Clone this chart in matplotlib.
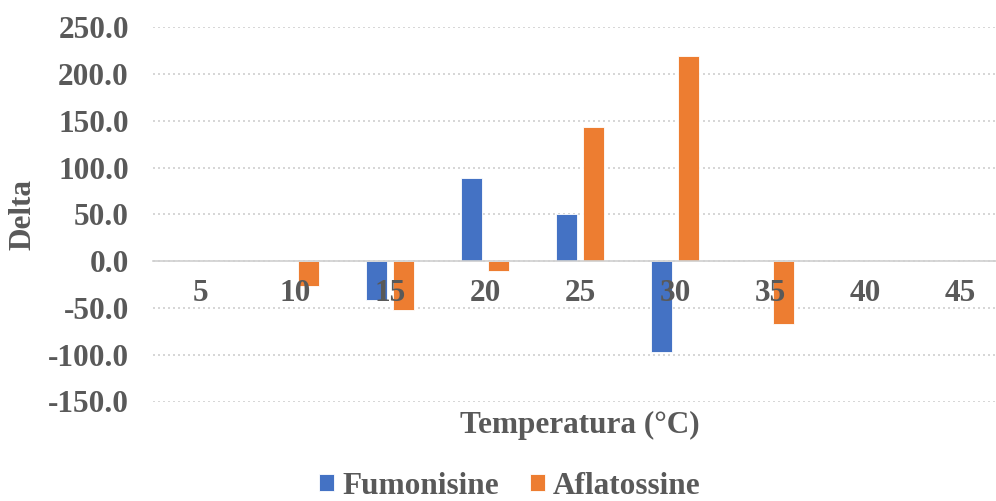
import matplotlib
matplotlib.use("Agg")
import matplotlib.pyplot as plt
import numpy as np

categories = ["5", "10", "15", "20", "25", "30", "35", "40", "45"]
fumonisine = [0, 0, -41, 89, 50, -97, 0, 0, 0]
aflatossine = [0, -27, -52, -11, 143, 219, -67.5, 0, 0]
yticks = [-150, -100, -50, 0, 50, 100, 150, 200, 250]

TXT = "#595959"
FS = 22.5
plt.rcParams['font.family'] = ['Liberation Serif', 'DejaVu Serif']
plt.rcParams['font.weight'] = 'bold'

fig = plt.figure(figsize=(9.96, 5.01), dpi=100)
W, H = 996, 501
left, right = 152.5, 1007.5
top, bottom = 27.3, 401.5
ax = fig.add_axes([left / W, 1 - bottom / H, (right - left) / W, (bottom - top) / H])

x = np.arange(len(categories))
w = 0.22
off = 0.145
ax.bar(x - off, fumonisine, width=w, color="#4472C4", edgecolor="#ffffff", linewidth=0.6, label="Fumonisine", zorder=2)
ax.bar(x + off, aflatossine, width=w, color="#ED7D31", edgecolor="#ffffff", linewidth=0.6, label="Aflatossine", zorder=2)

ax.set_xlim(-0.5, len(categories) - 0.5)
ax.set_ylim(-150, 250)
ax.set_yticks(yticks)
ax.set_yticklabels([f"{v:.1f}" for v in yticks])
ax.yaxis.grid(True, linestyle=(0, (1.2, 1.8)), color="#d0d0d0", linewidth=1.2)
ax.set_axisbelow(True)
ax.xaxis.set_zorder(5)

for s in ["top", "right", "left"]:
    ax.spines[s].set_visible(False)
ax.spines["bottom"].set_position(("data", 0))
ax.spines["bottom"].set_color("#d0d0d0")
ax.spines["bottom"].set_linewidth(1.2)
ax.spines["bottom"].set_zorder(4)

ax.set_xticks(x)
ax.set_xticklabels(categories)
ax.tick_params(axis="x", length=0, pad=13, labelsize=FS, labelcolor=TXT)
ax.tick_params(axis="y", length=0, pad=17, labelsize=FS, labelcolor=TXT)
for lab in ax.get_xticklabels() + ax.get_yticklabels():
    lab.set_fontweight("bold")

fig.text(580 / W, 1 - 425 / H, "Temperatura (°C)", ha="center", va="center",
         fontsize=FS, fontweight="bold", color=TXT)
fig.text(23 / W, 1 - 215 / H, "Delta", ha="center", va="center", rotation=90,
         fontsize=FS, fontweight="bold", color=TXT)

leg = fig.legend(loc="center", bbox_to_anchor=(510 / W, 1 - 486.5 / H), ncol=2, frameon=False,
                 fontsize=FS, handlelength=0.46, handleheight=0.46, handletextpad=0.27,
                 columnspacing=1.0, borderpad=0)
for t in leg.get_texts():
    t.set_color(TXT)
    t.set_fontweight("bold")

fig.savefig("out.png", dpi=100)
